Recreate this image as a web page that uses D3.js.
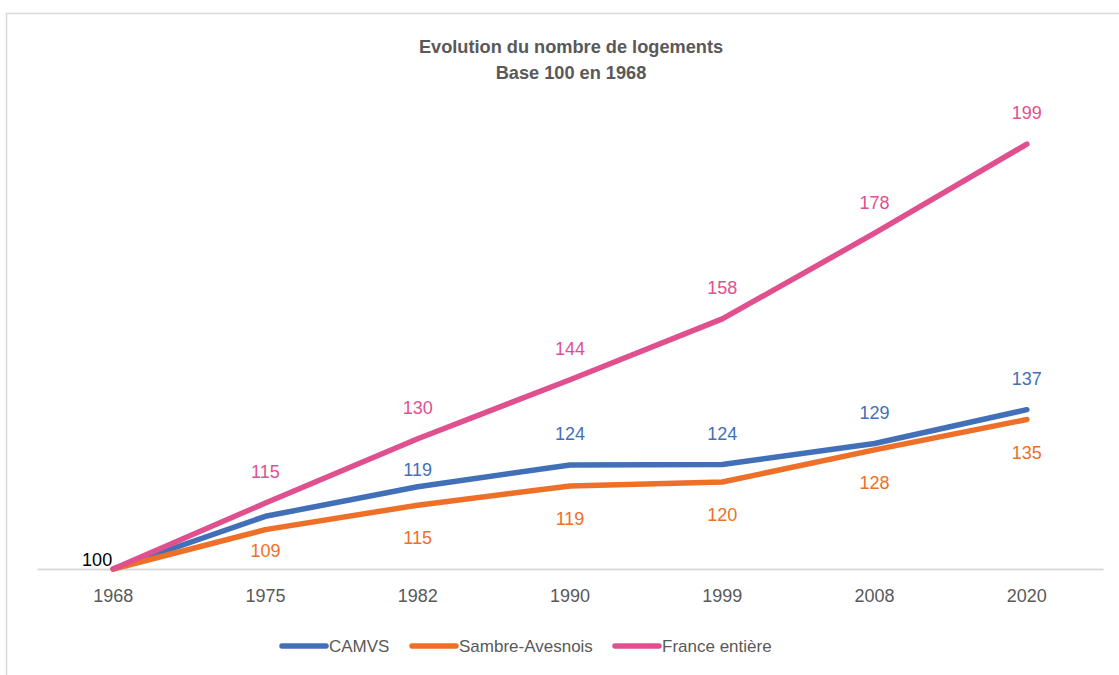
<!DOCTYPE html>
<html>
<head>
<meta charset="utf-8">
<script src="https://cdn.jsdelivr.net/npm/d3@7"></script>
<style>
  body { margin: 0; background: #fff; }
  svg { font-family: "Liberation Sans", Arial, sans-serif; }
</style>
</head>
<body>
<svg id="chart" width="1119" height="675"></svg>
<script>
// data
const years = ["1968", "1975", "1982", "1990", "1999", "2008", "2020"];
const camvs = [100, 112.3, 119.2, 124.3, 124.4, 129.3, 137.2];
const sambre = [100, 109.2, 114.9, 119.4, 120.3, 127.8, 134.9];
const france = [100, 115.4, 130.4, 144.2, 158.4, 178.4, 199.2];
// which points carry a value label
const camvsLabelled = [false, false, true, true, true, true, true];
const sambreLabelled = [false, true, true, true, true, true, true];
const franceLabelled = [false, true, true, true, true, true, true];

const series = [
  { name: "CAMVS", values: camvs, labelled: camvsLabelled, color: "#4270B8", pos: "above" },
  { name: "Sambre-Avesnois", values: sambre, labelled: sambreLabelled, color: "#EE6F28", pos: "below" },
  { name: "France entière", values: france, labelled: franceLabelled, color: "#E0508F", pos: "above" }
];

const svg = d3.select("#chart"),
    width = +svg.attr("width"),
    height = +svg.attr("height");

// outer frame
svg.append("rect")
  .attr("x", 6.5).attr("y", 13.5)
  .attr("width", 1130).attr("height", 700)
  .attr("fill", "none")
  .attr("stroke", "#D9D9D9")
  .attr("stroke-width", 1.5);

// title
svg.append("text")
  .attr("x", 571).attr("y", 53)
  .attr("text-anchor", "middle")
  .attr("font-weight", "bold").attr("font-size", 18.2)
  .attr("fill", "#595959")
  .text("Evolution du nombre de logements");
svg.append("text")
  .attr("x", 571).attr("y", 79)
  .attr("text-anchor", "middle")
  .attr("font-weight", "bold").attr("font-size", 18.2)
  .attr("fill", "#595959")
  .text("Base 100 en 1968");

// scales
const x = d3.scaleBand()
  .domain(years)
  .range([37, 1103]);
const y = d3.scaleLinear()
  .domain([100, 200])
  .range([569, 140.7]);

const cx = d => x(d) + x.bandwidth() / 2;

// axis
const xAxis = svg.append("g")
  .attr("transform", "translate(0,569)")
  .call(d3.axisBottom(x).tickSize(0).tickPadding(20));
xAxis.select(".domain").attr("stroke", "#D9D9D9").attr("stroke-width", 2);
xAxis.selectAll("text")
  .attr("font-size", 18).attr("fill", "#595959")
  .attr("font-family", "Liberation Sans, Arial, sans-serif");

// lines
const line = d3.line()
  .x((d, i) => cx(years[i]))
  .y(d => y(d));

svg.selectAll("path.serie")
  .data(series)
  .join("path")
    .attr("class", "serie")
    .attr("d", d => line(d.values))
    .attr("fill", "none")
    .attr("stroke", d => d.color)
    .attr("stroke-width", 5.5)
    .attr("stroke-linecap", "round")
    .attr("stroke-linejoin", "round");

// value labels
series.forEach(s => {
  s.values.forEach((v, i) => {
    if (!s.labelled[i]) return;
    let dy = s.pos === "above" ? -31 : 33;
    if (s.name === "CAMVS" && i === 2) dy = -17;
    if (s.name === "Sambre-Avesnois" && i === 1) dy = 21;
    svg.append("text")
      .attr("x", cx(years[i]))
      .attr("y", y(v) + dy)
      .attr("dy", "0.35em")
      .attr("text-anchor", "middle")
      .attr("font-size", 18)
      .attr("fill", s.color)
      .text(Math.round(v));
  });
});

// base label at 1968
svg.append("text")
  .attr("x", cx(years[0]) - 16)
  .attr("y", y(100) - 9)
  .attr("dy", "0.35em")
  .attr("text-anchor", "middle")
  .attr("font-size", 18)
  .attr("fill", "#000")
  .text(Math.round(camvs[0]));

// legend
const legendX = [280, 410, 613];
const legend = svg.selectAll("g.legend")
  .data(series)
  .join("g")
    .attr("class", "legend")
    .attr("transform", (d, i) => `translate(${legendX[i]},646)`);
legend.append("line")
  .attr("x1", 2).attr("x2", 46)
  .attr("y1", 0).attr("y2", 0)
  .attr("stroke", d => d.color)
  .attr("stroke-width", 5.5)
  .attr("stroke-linecap", "round");
legend.append("text")
  .attr("x", 49).attr("y", 0)
  .attr("dy", "0.35em")
  .attr("font-size", 17)
  .attr("fill", "#595959")
  .text(d => d.name);
</script>
</body>
</html>
